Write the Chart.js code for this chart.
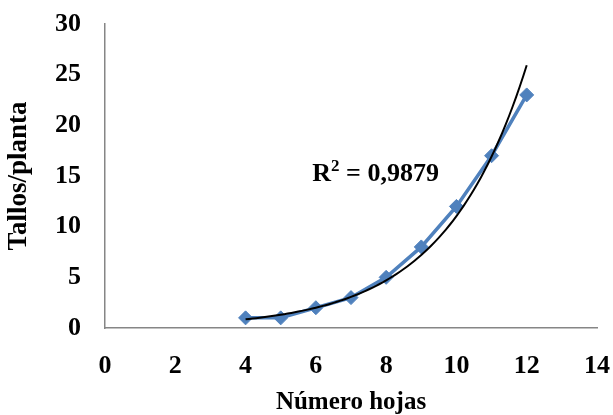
<!DOCTYPE html>
<html lang="es">
<head>
  <meta charset="UTF-8" />
  <title>Tallos por planta</title>
  <script src="https://cdn.jsdelivr.net/npm/chart.js"></script>
  <style>
    html, body { margin: 0; padding: 0; background: #fff; }
  </style>
</head>
<body>
<canvas id="chart" width="613" height="415"></canvas>

<script>
  // observed values
  const hojas = [4, 5, 6, 7, 8, 9, 10, 11, 12];
  const tallos = [1, 1, 2, 3, 5, 8, 12, 17, 23];

  // axis ranges
  const xRange = [0, 14];
  const xStep = 2;
  const yRange = [0, 30];
  const yStep = 5;

  // where the R² label sits (in data units)
  const r2At = { x: 7.7, y: 15.2 };

  const FONT = "'Liberation Serif', 'Times New Roman', serif";
  const AXIS_GREY = "#868686";
  const BLUE = "#4F81BD";

  // exponential least-squares fit y = a·e^(b·x), done on ln(y)
  function expFit(xs, ys) {
    const n = xs.length;
    const ly = ys.map(Math.log);
    const mx = xs.reduce((s, v) => s + v, 0) / n;
    const my = ly.reduce((s, v) => s + v, 0) / n;
    let sxy = 0, sxx = 0, syy = 0;
    for (let i = 0; i < n; i++) {
      sxy += (xs[i] - mx) * (ly[i] - my);
      sxx += (xs[i] - mx) ** 2;
      syy += (ly[i] - my) ** 2;
    }
    const b = sxy / sxx;
    return { a: Math.exp(my - b * mx), b: b, r2: (sxy * sxy) / (sxx * syy) };
  }

  const fit = expFit(hojas, tallos);
  const trend = [];
  for (let x = hojas[0]; x <= hojas[hojas.length - 1] + 1e-9; x += 0.1) {
    trend.push({ x: x, y: fit.a * Math.exp(fit.b * x) });
  }
  const r2Value = " = " + fit.r2.toFixed(4).replace(".", ",");

  // "R" + raised "2" + value, centred on r2At
  const r2Label = {
    id: "r2Label",
    afterDatasetsDraw(chart) {
      const { ctx, scales } = chart;
      const big = "bold 26px " + FONT;
      const small = "bold 17px " + FONT;
      ctx.save();
      ctx.fillStyle = "#000";
      ctx.textBaseline = "middle";
      ctx.textAlign = "left";
      ctx.font = big;
      const wR = ctx.measureText("R").width;
      const wV = ctx.measureText(r2Value).width;
      ctx.font = small;
      const w2 = ctx.measureText("2").width;
      const cx = scales.x.getPixelForValue(r2At.x);
      const cy = scales.y.getPixelForValue(r2At.y);
      let x = cx - (wR + w2 + wV) / 2;
      ctx.font = big;
      ctx.fillText("R", x, cy);
      x += wR;
      ctx.font = small;
      ctx.fillText("2", x, cy - 7);
      x += w2;
      ctx.font = big;
      ctx.fillText(r2Value, x, cy);
      ctx.restore();
    }
  };

  const tickFont = { family: FONT, size: 26, weight: "bold" };

  // fixed axis sizes; drop the auto padding chart.js adds for edge labels
  function fixBox(scale, size) {
    if (scale.isHorizontal()) scale.height = size;
    else scale.width = size;
    scale.paddingLeft = scale.paddingRight = scale.paddingTop = scale.paddingBottom = 0;
  }

  new Chart(document.getElementById("chart"), {
    type: "scatter",
    data: {
      datasets: [
        {
          label: "Tallos/planta",
          data: hojas.map((h, i) => ({ x: h, y: tallos[i] })),
          showLine: true,
          borderColor: BLUE,
          backgroundColor: BLUE,
          borderWidth: 3.5,
          pointStyle: "rectRot",
          pointRadius: 7,
          pointBorderWidth: 1,
          order: 2
        },
        {
          label: "Exponencial",
          data: trend,
          showLine: true,
          borderColor: "#000",
          borderWidth: 2,
          pointRadius: 0,
          tension: 0,
          order: 1
        }
      ]
    },
    options: {
      responsive: false,
      animation: false,
      devicePixelRatio: 1,
      layout: { padding: { left: 0, right: 16, top: 24, bottom: 0 } },
      plugins: {
        legend: { display: false },
        tooltip: { enabled: false }
      },
      scales: {
        x: {
          type: "linear",
          min: xRange[0],
          max: xRange[1],
          ticks: { stepSize: xStep, padding: 23, color: "#000", font: tickFont },
          grid: { display: false, drawTicks: false },
          border: { display: true, color: AXIS_GREY, width: 1.5 },
          title: {
            display: true,
            text: "Número hojas",
            color: "#000",
            font: { family: FONT, size: 25, weight: "bold", lineHeight: 1 },
            padding: { top: 0, bottom: 0 }
          },
          afterFit(scale) { fixBox(scale, 87); }
        },
        y: {
          min: yRange[0],
          max: yRange[1],
          ticks: { stepSize: yStep, padding: 24, color: "#000", font: tickFont },
          grid: { display: false, drawTicks: false },
          border: { display: true, color: AXIS_GREY, width: 1.5 },
          title: {
            display: true,
            text: "Tallos/planta",
            color: "#000",
            font: { family: FONT, size: 27, weight: "bold", lineHeight: 1 },
            padding: { top: 6, bottom: 0 }
          },
          afterFit(scale) { fixBox(scale, 105); }
        }
      }
    },
    plugins: [r2Label]
  });
</script>
</body>
</html>
